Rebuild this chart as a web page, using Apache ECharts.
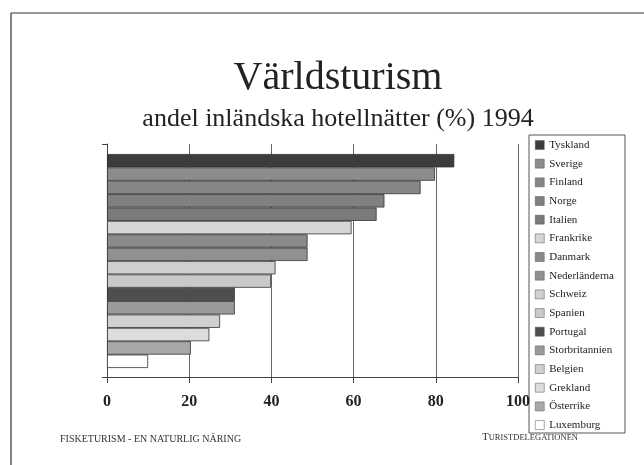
<!DOCTYPE html>
<html>
<head>
<meta charset="utf-8">
<script src="https://cdn.jsdelivr.net/npm/echarts@6/dist/echarts.min.js"></script>
<style>
  html, body { margin: 0; padding: 0; background: #fff; }
  #chart { width: 644px; height: 465px; }
</style>
</head>
<body>
<div id="chart"></div>
<script>
// countries top to bottom, share of domestic hotel nights (%) 1994
var countries = ['Tyskland', 'Sverige', 'Finland', 'Norge', 'Italien', 'Frankrike', 'Danmark',
  'Nederländerna', 'Schweiz', 'Spanien', 'Portugal', 'Storbritannien', 'Belgien', 'Grekland',
  'Österrike', 'Luxemburg'];
var shares = [84.5, 79.8, 76.3, 67.5, 65.6, 59.5, 48.8, 48.8, 41.0, 39.9, 31.1, 31.1, 27.5, 24.9, 20.4, 10.0];
var fills = ['#3c3c3c', '#8c8c8c', '#868686', '#808080', '#7a7a7a', '#d6d6d6', '#8a8a8a', '#909090',
  '#cfcfcf', '#c9c9c9', '#4e4e4e', '#9a9a9a', '#d0d0d0', '#dcdcdc', '#a8a8a8', '#ffffff'];
var axisMax = 100;
var tickStep = 20;

var serif = 'Liberation Serif';

var series = countries.map(function (name, i) {
  var d = countries.map(function (c, j) { return j === i ? shares[i] : '-'; });
  return {
    name: name,
    type: 'bar',
    stack: 'all',
    xAxisIndex: 1,
    yAxisIndex: 1,
    barCategoryGap: '0%',
    data: d,
    itemStyle: { color: fills[i], borderColor: '#333', borderWidth: 0.8 },
    emphasis: { disabled: true }
  };
});

var chart = echarts.init(document.getElementById('chart'));
chart.setOption({
  animation: false,
  title: {
    text: 'Världsturism',
    subtext: 'andel inländska hotellnätter (%) 1994',
    left: 333,
    textAlign: 'center',
    top: 53,
    itemGap: 8,
    textStyle: { fontFamily: serif, fontSize: 40, fontWeight: 'normal', color: '#222' },
    subtextStyle: { fontFamily: serif, fontSize: 26, color: '#222' }
  },
  legend: {
    orient: 'vertical',
    left: 535,
    top: 139,
    padding: 0,
    itemGap: 6.67,
    itemWidth: 9,
    itemHeight: 9,
    icon: 'rect',
    itemStyle: { borderColor: '#555', borderWidth: 0.5 },
    textStyle: { fontFamily: serif, fontSize: 11, lineHeight: 12, color: '#222' },
    data: countries
  },
  grid: [
    { left: 107, right: 126, top: 144, bottom: 88 },
    { left: 107, right: 126, top: 154, bottom: 97 }
  ],
  xAxis: [
    {
      gridIndex: 0,
      type: 'value',
      min: 0,
      max: axisMax,
      interval: tickStep,
      axisLine: { show: true, lineStyle: { color: '#444', width: 1 } },
      axisTick: { show: true, length: 6, lineStyle: { color: '#444' } },
      splitLine: { show: true, lineStyle: { color: '#666', width: 1 } },
      axisLabel: { margin: 17, fontFamily: serif, fontSize: 16, fontWeight: 'bold', color: '#222' }
    },
    { gridIndex: 1, type: 'value', min: 0, max: axisMax, show: false }
  ],
  yAxis: [
    {
      gridIndex: 0,
      type: 'value',
      min: 0,
      max: 1,
      interval: 1,
      axisLine: { show: true, lineStyle: { color: '#444', width: 1 } },
      axisTick: { show: true, length: 5, lineStyle: { color: '#444' } },
      splitLine: { show: false },
      axisLabel: { show: false }
    },
    { gridIndex: 1, type: 'category', data: countries, inverse: true, show: false }
  ],
  graphic: [
    { type: 'line', shape: { x1: 11, y1: 13, x2: 644, y2: 13 }, style: { stroke: '#333', lineWidth: 1.2 } },
    { type: 'line', shape: { x1: 11, y1: 13, x2: 11, y2: 465 }, style: { stroke: '#333', lineWidth: 1.2 } },
    { type: 'rect', shape: { x: 529, y: 135, width: 96, height: 298 }, style: { fill: 'none', stroke: '#555', lineWidth: 1 } },
    {
      type: 'text', left: 60, top: 434,
      style: { text: 'FISKETURISM - EN NATURLIG NÄRING', font: '10px "Liberation Serif"', fill: '#333' }
    },
    {
      type: 'text', left: 482, top: 432,
      style: {
        text: '{a|T}{b|URISTDELEGATIONEN}',
        rich: {
          a: { fontFamily: serif, fontSize: 11, fill: '#333' },
          b: { fontFamily: serif, fontSize: 8.5, fill: '#333' }
        }
      }
    }
  ],
  series: series
});
</script>
</body>
</html>
